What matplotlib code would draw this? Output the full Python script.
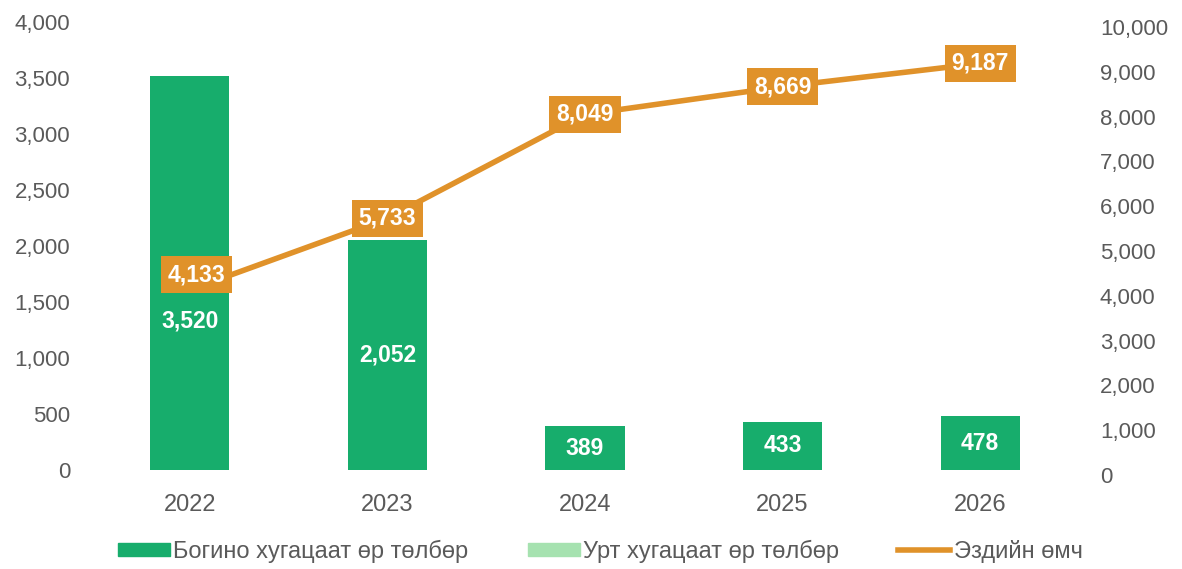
import matplotlib
matplotlib.use("Agg")
import matplotlib.pyplot as plt
from matplotlib.patches import Patch
from matplotlib.lines import Line2D

years = ["2022", "2023", "2024", "2025", "2026"]
short_term = [3520, 2052, 389, 433, 478]
long_term = [0, 0, 0, 0, 0]
equity = [4133, 5733, 8049, 8669, 9187]

left_ticks = [0, 500, 1000, 1500, 2000, 2500, 3000, 3500, 4000]
right_ticks = [0, 1000, 2000, 3000, 4000, 5000, 6000, 7000, 8000, 9000, 10000]

GREEN = "#17ad6c"
LIGHT = "#a6e2b0"
ORANGE = "#e0922a"
GRAY = "#5a5a5a"

plt.rcParams['font.family'] = ['Liberation Sans', 'DejaVu Sans']

W, H = 1182, 569
fig = plt.figure(figsize=(W / 100, H / 100), dpi=100)
L, B, Wd, Ht = 91 / W, 1 - 470 / H, 988 / W, 448 / H
ax = fig.add_axes([L, B, Wd, Ht])
ax2 = fig.add_axes([L, B - 5 / H, Wd, Ht], sharex=ax)
ax2.patch.set_visible(False)
ax2.yaxis.tick_right()
ax2.xaxis.set_visible(False)

x = list(range(len(years)))
ax.bar(x, short_term, width=0.4, color=GREEN, zorder=2)
ax.bar(x, long_term, width=0.4, bottom=short_term, color=LIGHT, zorder=2)

ax.set_xlim(-0.5, 4.5)
ax.set_ylim(0, 4000)
ax2.set_ylim(0, 10000)
ax.set_xticks(x)
ax.set_xticklabels(years)
ax.set_yticks(left_ticks)
ax.set_yticklabels([f"{v:,}" for v in left_ticks])
ax2.set_yticks(right_ticks)
ax2.set_yticklabels([f"{v:,}" for v in right_ticks])

for a in (ax, ax2):
    for s in a.spines.values():
        s.set_visible(False)
    a.tick_params(length=0, labelsize=16, labelcolor=GRAY)
ax.tick_params(axis='x', pad=17, labelsize=17)
ax.tick_params(axis='y', pad=15)
ax2.tick_params(axis='y', pad=15)

# bar labels
bar_label_offsets = [-35, 0, 0, 0, 0]
for xi, v, off in zip(x, short_term, bar_label_offsets):
    ax.annotate(f"{v:,}", (xi, v / 2), xytext=(0, off), textcoords="offset points",
                ha="center", va="center", color="white", fontsize=16.5, fontweight="bold", zorder=5)

ax2.plot(x, equity, color=ORANGE, lw=4, zorder=3, solid_capstyle="butt")
line_label_offsets = [(5, 11), (0, 0), (0, 0), (0, 0), (0, 0)]
for xi, v, (dx, dy) in zip(x, equity, line_label_offsets):
    ax2.annotate(f"{v:,}", (xi, v), xytext=(dx, dy), textcoords="offset points",
                 ha="center", va="center", color="white", fontsize=16.5, fontweight="bold",
                 bbox=dict(boxstyle="square,pad=0.3", fc=ORANGE, ec="none"), zorder=6)

ax.set_zorder(1)
ax2.set_zorder(2)

handles = [Patch(color=GREEN), Patch(color=LIGHT), Line2D([], [], color=ORANGE, lw=4)]
labels = ["Богино хугацаат өр төлбөр", "Урт хугацаат өр төлбөр", "Эздийн өмч"]
fig.legend(handles, labels, loc="center left", bbox_to_anchor=(118 / W, 1 - 551 / H), ncol=3,
           frameon=False, fontsize=17, labelcolor=GRAY, handlelength=2.2, handleheight=0.45,
           handletextpad=0.15, columnspacing=2.5, borderaxespad=0, borderpad=0)

fig.savefig("out.png", dpi=100)
